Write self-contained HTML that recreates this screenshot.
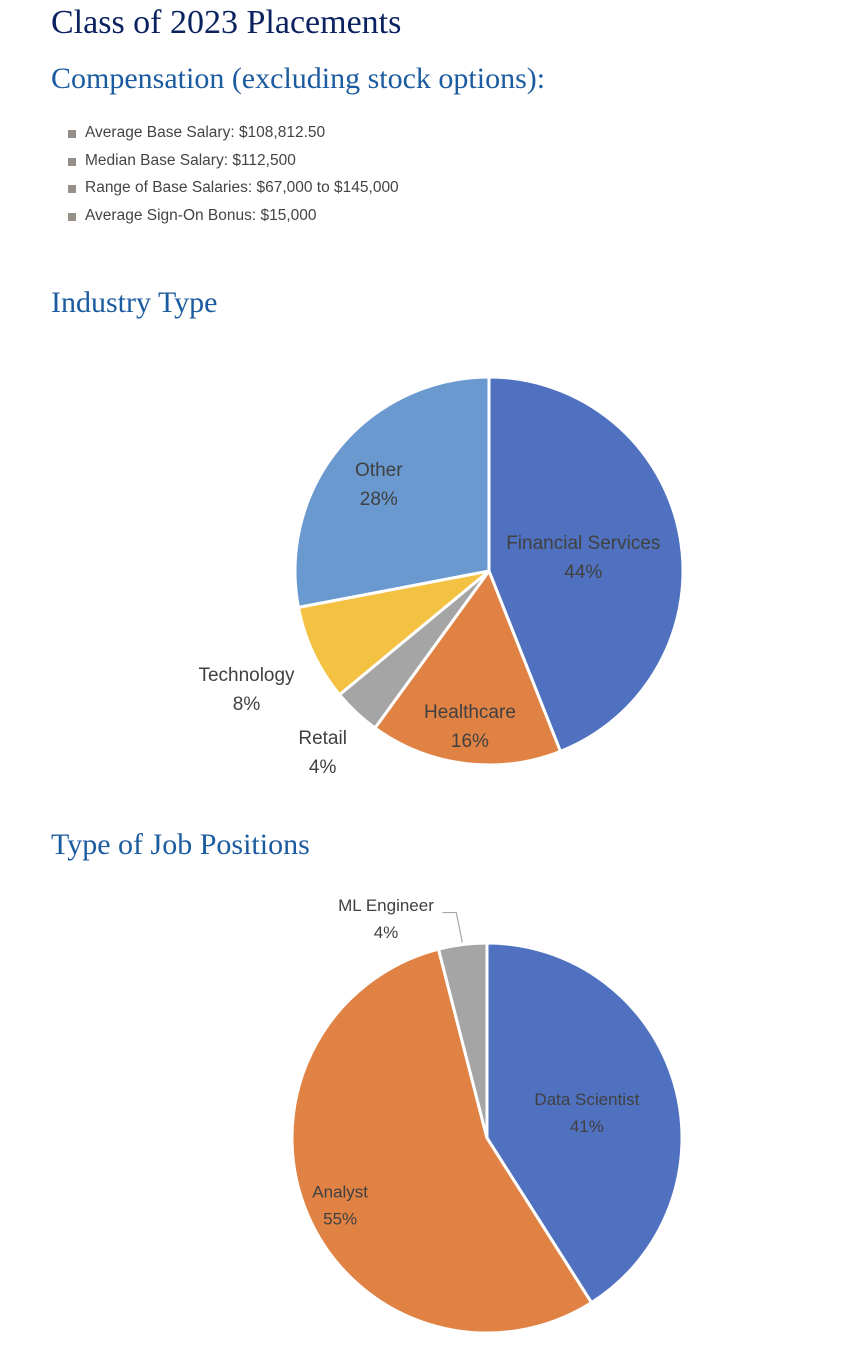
<!DOCTYPE html>
<html><head><meta charset="utf-8">
<style>
body{margin:0;background:#fff;width:862px;height:1355px;overflow:hidden;position:relative;font-family:"Liberation Sans",sans-serif}
h1{position:absolute;left:51px;top:4px;margin:0;font-family:"Liberation Serif",serif;font-weight:normal;font-size:34px;color:#0b2260}
h2{position:absolute;left:51px;margin:0;font-family:"Liberation Serif",serif;font-weight:normal;font-size:30px;color:#1b5b9f}
ul{position:absolute;left:68px;top:122px;margin:0;padding:0;list-style:none}
li{font-size:15.5px;color:#444;height:27.5px;line-height:22px;padding-left:17px;position:relative}
li:before{content:"";position:absolute;left:0;top:8px;width:8px;height:8px;background:#968f88}
svg{position:absolute;left:0;top:0}
</style></head><body>
<h1>Class of 2023 Placements</h1>
<h2 style="top:62px">Compensation (excluding stock options):</h2>
<ul>
<li>Average Base Salary: $108,812.50</li>
<li>Median Base Salary: $112,500</li>
<li>Range of Base Salaries: $67,000 to $145,000</li>
<li>Average Sign-On Bonus: $15,000</li>
</ul>
<h2 style="top:286px">Industry Type</h2>
<h2 style="top:828px">Type of Job Positions</h2>
<svg id="chart" width="862" height="1355"></svg>
<script>
const industryCategories=["Financial Services","Healthcare","Retail","Technology","Other"];
const industryValues=[44,16,4,8,28];
const jobCategories=["Data Scientist","Analyst","ML Engineer"];
const jobValues=[41,55,4];

const NS="http://www.w3.org/2000/svg";
const svg=document.getElementById("chart");
function mk(t,a){const e=document.createElementNS(NS,t);for(const k in a)e.setAttribute(k,a[k]);svg.appendChild(e);return e;}
function pt(cx,cy,r,f){const a=f*2*Math.PI;return [cx+r*Math.sin(a),cy-r*Math.cos(a)];}
function pie(cx,cy,r,cats,vals,colors,labelR,fs,fw,name){
  const tot=vals.reduce((a,b)=>a+b,0);let acc=0;
  vals.forEach((v,i)=>{
    const f0=acc/tot,f1=(acc+v)/tot;acc+=v;
    const p0=pt(cx,cy,r,f0),p1=pt(cx,cy,r,f1);
    const large=(f1-f0)>0.5?1:0;
    const p=mk("path",{d:`M${cx},${cy}L${p0[0]},${p0[1]}A${r},${r} 0 ${large} 1 ${p1[0]},${p1[1]}Z`,fill:colors[i],stroke:"#fff","stroke-width":3});
    
    
    const fm=(f0+f1)/2;let lp=pt(cx,cy,labelR[i],fm);
    if(labelR[i]<0){ // ML engineer outside label with leader
      lp=[386,915];
      const e=pt(cx,cy,r+2,fm);
      const ln=mk("polyline",{points:`${e[0]},${e[1]} ${e[0]-6},${e[1]-30} ${e[0]-20},${e[1]-30}`,fill:"none",stroke:"#a6a6a6","stroke-width":1.2});
      
      
    }
    const t=mk("text",{x:lp[0],y:lp[1]-4,"text-anchor":"middle","font-size":fs,"font-weight":fw,fill:"#404040","font-family":"Liberation Sans, sans-serif"});
    
    
    t.textContent=cats[i];
    const t2=mk("text",{x:lp[0],y:lp[1]+fs+6,"text-anchor":"middle","font-size":fs,"font-weight":fw,fill:"#404040","font-family":"Liberation Sans, sans-serif"});
    
    
    t2.textContent=v+"%";
  });
}
pie(489,571,194,industryCategories,industryValues,["#4f71bf","#df8244","#a5a5a5","#f4c242","#6a99d0"],[96,152,243,268,143],19,"normal","industry");
pie(487,1138,195,jobCategories,jobValues,["#4f71bf","#df8244","#a5a5a5"],[104,160,-1],17,"normal","job");
</script>
</body></html>
